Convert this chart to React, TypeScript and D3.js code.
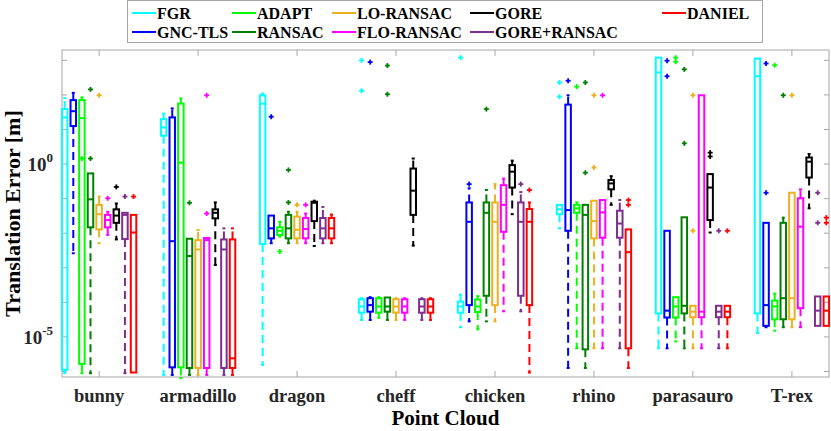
import React from 'react';
import * as d3 from 'd3';

// categories on the x axis
const categories = ['bunny', 'armadillo', 'dragon', 'cheff', 'chicken', 'rhino', 'parasauro', 'T-rex'];
const methods = ['FGR', 'GNC-TLS', 'ADAPT', 'RANSAC', 'LO-RANSAC', 'FLO-RANSAC', 'GORE', 'GORE+RANSAC', 'DANIEL'];
const colors = ['#00ffff', '#0000ff', '#00ff00', '#008000', '#edb120', '#ff00ff', '#000000', '#7e2f8e', '#ff0000'];

// per method: [whisker low, q1, median, q3, whisker high], as log10 of the error [m]
const bunny = [
  [-6.05, -5.95, 1.35, 1.59, 1.91], [-2.58, 1.1, 1.53, 1.85, 2.06], [-6.05, -5.78, 1.33, 1.85, 1.93],
  [-6.05, -1.83, -1.02, -0.27, -0.27], [-2.29, -1.89, -1.45, -1.18, -0.94], [-2.05, -1.83, -1.62, -1.47, -1.38],
  [-2.18, -1.7, -1.49, -1.31, -1.14], [-6.05, -2.17, -1.47, -1.41, -1.41], [-6.03, -6.03, -1.98, -1.47, -1.47],
];
const armadillo = [
  [-6.1, 0.82, 1.06, 1.3, 1.46], [-6.1, -5.88, -2.23, 1.35, 1.61], [-6.19, -5.88, 0.04, 1.75, 1.9],
  [-6.1, -5.9, -2.66, -2.16, -2.16], [-6.1, -5.9, -2.47, -2.2, -1.91], [-6.1, -5.9, -2.2, -2.14, -2.14],
  [-2.92, -1.57, -1.41, -1.31, -1.11], [-6.1, -5.9, -2.47, -2.18, -1.86], [-6.1, -5.9, -5.62, -2.18, -1.86],
];
const dragon = [
  [-5.81, -2.31, 1.75, 1.99, 2.04], [-2.29, -2.15, -1.86, -1.49, -1.49], [-2.1, -2.05, -1.93, -1.83, -1.67],
  [-2.29, -2.15, -1.86, -1.47, -1.38], [-2.29, -2.15, -1.9, -1.52, -1.38], [-2.29, -2.15, -1.88, -1.56, -1.43],
  [-2.37, -1.65, -1.12, -1.09, -1.06], [-2.29, -2.15, -1.86, -1.56, -1.24], [-2.29, -2.15, -1.86, -1.56, -1.46],
];
const cheff = [
  [-4.51, -4.3, -4.12, -3.91, -3.88], [-4.51, -4.27, -4.08, -3.88, -3.85], [-4.45, -4.3, -4.12, -3.88, -3.85],
  [-4.51, -4.27, -4.12, -3.86, -3.86], [-4.51, -4.3, -4.12, -3.91, -3.88], [-4.51, -4.3, -4.12, -3.91, -3.88],
  [-2.36, -1.47, -0.77, -0.13, 0.16], [-4.51, -4.3, -4.12, -3.91, -3.88], [-4.51, -4.3, -4.12, -3.91, -3.88],
];
const chicken = [
  [-4.72, -4.3, -4.12, -3.98, -3.78], [-4.55, -4.08, -1.67, -1.11, -0.7], [-4.78, -4.28, -4.12, -3.92, -3.82],
  [-4.55, -3.81, -1.41, -1.11, -0.75], [-4.55, -4.08, -1.67, -1.11, -0.58], [-4.26, -1.96, -1.18, -0.61, -0.42],
  [-1.45, -0.68, -0.22, -0.03, 0.1], [-4.26, -3.81, -1.67, -1.11, -0.81], [-6.03, -4.08, -1.67, -1.3, -1.11],
];
const rhino = [
  [-1.86, -1.45, -1.31, -1.18, -1.18], [-5.9, -1.93, -1.33, 1.72, 1.99], [-5.33, -1.41, -1.28, -1.18, -1.11],
  [-5.9, -5.36, -1.47, -1.18, -1.18], [-5.33, -2.15, -1.65, -1.06, -1.06], [-5.33, -2.13, -1.4, -1.04, -1.04],
  [-1.18, -0.73, -0.56, -0.46, -0.35], [-5.33, -2.13, -1.72, -1.35, -1.04], [-5.9, -5.33, -2.55, -1.89, -1.89],
];
const parasauro = [
  [-5.33, -4.32, 2.65, 3.08, 3.08], [-5.33, -4.44, -4.24, -1.93, -1.93], [-5.13, -4.44, -4.12, -3.85, -3.85],
  [-5.33, -4.32, -4.1, -1.54, -1.54], [-5.33, -4.43, -4.27, -4.1, -4.1], [-5.33, -4.43, -4.27, 1.99, 1.99],
  [-1.98, -1.62, -0.68, -0.29, -0.29], [-5.33, -4.43, -4.27, -4.1, -4.1], [-5.33, -4.43, -4.27, -4.1, -4.1],
];
const trex = [
  [-4.89, -4.32, 2.54, 3.05, 3.05], [-4.72, -4.68, -4.08, -1.7, -1.7], [-4.82, -4.49, -4.12, -3.95, -3.75],
  [-4.72, -4.49, -3.88, -1.7, -1.55], [-4.72, -4.49, -3.88, -0.83, -0.83], [-4.72, -4.17, -1.81, -0.99, -0.73],
  [-1.28, -0.39, 0.07, 0.19, 0.29], [-4.68, -4.68, -4.24, -3.83, -3.83], [-4.68, -4.68, -4.24, -3.83, -3.83],
];
const stats = [bunny, armadillo, dragon, cheff, chicken, rhino, parasauro, trex];

// outliers: [category, method, log10 error]
const outliers = [
  [0, 2, 0.16], [0, 3, 2.16], [0, 3, 0.16], [0, 4, 1.99], [0, 5, -0.99], [0, 6, -0.66], [0, 7, -0.94], [0, 8, -0.94],
  [1, 3, -1.12], [1, 5, -1.43], [1, 5, 1.99],
  [2, 1, 1.37], [2, 2, -2.53], [2, 3, -0.17], [2, 3, -1.11], [2, 4, -1.18], [2, 5, -1.18],
  [3, 0, 3.0], [3, 0, 2.12], [3, 1, 2.95], [3, 3, 2.85], [3, 3, 2.02],
  [4, 0, 3.08], [4, 1, -0.58], [4, 3, 1.59], [4, 7, -0.58], [4, 8, -0.75],
  [5, 0, 2.36], [5, 0, 1.95], [5, 1, 2.41], [5, 2, 2.24], [5, 3, 2.36], [5, 3, -0.25], [5, 4, 1.99], [5, 4, -0.1],
  [5, 5, 1.99], [5, 8, -1.04], [5, 8, -1.18],
  [6, 1, 2.99], [6, 1, 2.54], [6, 2, 3.08], [6, 2, 2.96], [6, 3, 2.74], [6, 3, 0.6], [6, 4, 1.99], [6, 4, -1.93],
  [6, 6, 0.33], [6, 6, 0.22], [6, 7, -1.93], [6, 8, -1.93],
  [7, 1, 2.91], [7, 1, -0.83], [7, 2, 2.86], [7, 3, 1.99], [7, 4, 1.99], [7, 7, -0.83], [7, 7, -1.7],
  [7, 8, -1.55], [7, 8, -1.7],
];
const yTickExps = [-6, -5, -4, -3, -2, -1, 0, 1, 2, 3];
const yLabelExps = [0, -5];

const W = 831;
const H = 431;
const left = 62, right = 829, top = 50, bottom = 377;
const font = '"Liberation Serif", "Times New Roman", serif';

export default function App() {
  const x = d3.scaleLinear().domain([0.625, 8.375]).range([left, right]);
  const y = d3.scaleLog().domain([10 ** -6.16, 10 ** 3.3]).range([bottom, top]);
  const yv = (l: number) => y(10 ** l);
  const step = 0.087;
  const bw = 5.5;
  const xPos = (c: number, m: number) => x(c + 1 + (m - 4) * step);

  return (
    <svg width={W} height={H} style={{ position: 'absolute', left: 0, top: 0, background: '#fff' }} fontFamily={font}>
      {/* axes box */}
      <rect x={left} y={top} width={right - left} height={bottom - top} fill="#fff" stroke="#a6a6a6" strokeWidth={1} />
      {yTickExps.map(e => (
        <g key={'yt' + e} stroke="#a6a6a6">
          <line x1={left} x2={left + 5} y1={yv(e)} y2={yv(e)} />
          <line x1={right} x2={right - 5} y1={yv(e)} y2={yv(e)} />
        </g>
      ))}
      {categories.map((c, i) => (
        <g key={'xt' + c} stroke="#a6a6a6">
          <line x1={x(i + 1)} x2={x(i + 1)} y1={top} y2={top + 6} />
          <line x1={x(i + 1)} x2={x(i + 1)} y1={bottom} y2={bottom - 6} />
        </g>
      ))}

      {/* boxes */}
      {stats.map((cat, ci) =>
        cat.map((s, mi) => {
          const [lo, q1, med, q3, hi] = s;
          const cx = xPos(ci, mi);
          const col = colors[mi];
          return (
            <g key={`b${ci}-${mi}`} stroke={col} fill="none" strokeWidth={2}>
              {hi > q3 && <line x1={cx} x2={cx} y1={yv(q3)} y2={yv(hi)} strokeDasharray="8,5" />}
              {lo < q1 && <line x1={cx} x2={cx} y1={yv(q1)} y2={yv(lo)} strokeDasharray="8,5" />}
              {hi > q3 && <line x1={cx - 1.5} x2={cx + 1.5} y1={yv(hi)} y2={yv(hi)} />}
              {lo < q1 && <line x1={cx - 1.5} x2={cx + 1.5} y1={yv(lo)} y2={yv(lo)} />}
              <rect x={cx - bw / 2} y={yv(q3)} width={bw} height={Math.max(1, yv(q1) - yv(q3))} />
              <line x1={cx - bw / 2} x2={cx + bw / 2} y1={yv(med)} y2={yv(med)} />
            </g>
          );
        })
      )}
      {outliers.map(([ci, mi, v], i) => {
        const cx = xPos(ci, mi);
        const cy = yv(v);
        return (
          <g key={'o' + i} stroke={colors[mi]} strokeWidth={1.8}>
            <line x1={cx - 2.5} x2={cx + 2.5} y1={cy} y2={cy} />
            <line x1={cx} x2={cx} y1={cy - 2.5} y2={cy + 2.5} />
          </g>
        );
      })}

      {/* y tick labels */}
      {yLabelExps.map(e => (
        <text key={'yl' + e} x={left - 9} y={yv(e) + 7} textAnchor="end" fontWeight="bold" fontSize={19} fill="#262626">
          10
          <tspan dy={-9} fontSize={13}>{e}</tspan>
        </text>
      ))}
      {/* x tick labels */}
      {categories.map((c, i) => (
        <text key={'xl' + c} x={x(i + 1)} y={402} textAnchor="middle" fontWeight="bold" fontSize={18.5} fill="#262626">
          {c}
        </text>
      ))}
      <text x={(left + right) / 2} y={425} textAnchor="middle" fontWeight="bold" fontSize={21} fill="#000">
        Point Cloud
      </text>
      <text transform={`translate(20,${(top + bottom) / 2}) rotate(-90)`} textAnchor="middle" fontWeight="bold" fontSize={22} fill="#000">
        Translation Error [m]
      </text>

      {/* legend */}
      <rect x={127.5} y={0.5} width={635} height={42} fill="#fff" stroke="#a6a6a6" />
      {methods.map((m, i) => {
        const row = i % 2;
        const colX = [132, 232, 332, 470, 662][Math.floor(i / 2)];
        const ly = row === 0 ? 13 : 32;
        return (
          <g key={'lg' + m}>
            <line x1={colX} x2={colX + 24} y1={ly} y2={ly} stroke={colors[i]} strokeWidth={2} />
            <text x={colX + 25} y={ly + 5.5} fontWeight="bold" fontSize={16} fill="#000">{m}</text>
          </g>
        );
      })}
    </svg>
  );
}
